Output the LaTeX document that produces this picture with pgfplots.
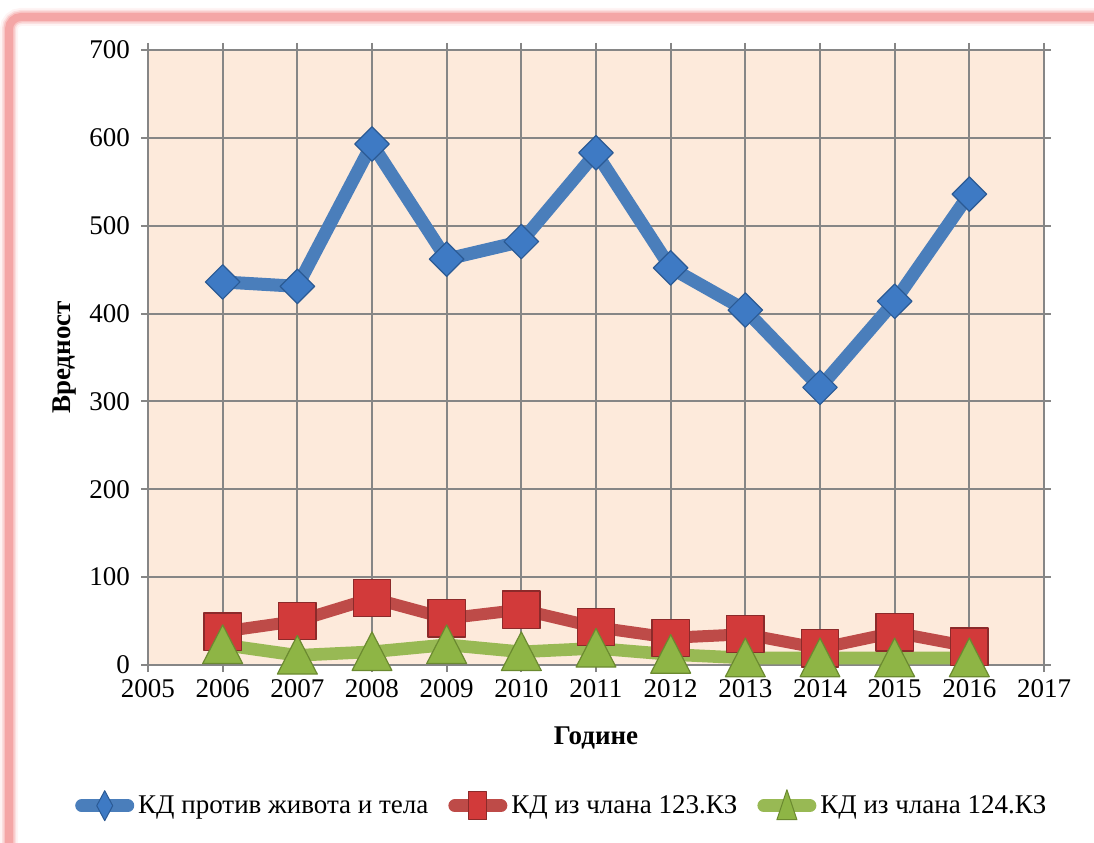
\documentclass[border=0pt]{standalone}
\usepackage{fontspec}
\setmainfont{Liberation Serif}
\usepackage{pgfplots}
\pgfplotsset{compat=1.18}
\definecolor{cBlue}{HTML}{4A7EBB}
\definecolor{cBlueM}{HTML}{3E7AC4}
\definecolor{cBlueD}{HTML}{2B5A94}
\definecolor{cRed}{HTML}{BE4B48}
\definecolor{cRedM}{HTML}{D23A3A}
\definecolor{cRedD}{HTML}{8C2A2A}
\definecolor{cGreen}{HTML}{98B954}
\definecolor{cGreenM}{HTML}{8EB545}
\definecolor{cGreenD}{HTML}{6B8A30}
\definecolor{cBg}{HTML}{FDEADB}
\definecolor{cGrid}{HTML}{868686}
\definecolor{cPink}{HTML}{F4A3A3}

\begin{document}
\begin{tikzpicture}[font=\fontsize{13.5}{16}\selectfont]
% frame with soft pink edge
\begin{scope}
\clip (0,0) rectangle (547pt,421pt);
\foreach \w/\o in {9/0.12, 7/0.25, 5.5/0.45, 4/0.9}
  \draw[cPink, line width=\w pt, opacity=\o, rounded corners=6pt] (4.5pt,-30pt) rectangle (580pt,412.5pt);
\end{scope}

\begin{axis}[
    at={(74pt,88.5pt)}, anchor=south west,
    scale only axis, width=448pt, height=307.5pt,
    xmin=2005, xmax=2017, ymin=0, ymax=700,
    xtick={2005,2006,...,2017}, ytick={0,100,...,700},
    /pgf/number format/1000 sep={},
    /pgf/number format/assume math mode=true,
    grid=major, major grid style={cGrid, line width=1pt},
    axis line style={cGrid, line width=1pt},
    tick style={cGrid, line width=1pt},
    tick align=outside, major tick length=3.5pt,
    axis background/.style={fill=cBg},
    y tick label style={xshift=-2pt},
    xlabel={\textbf{Године}}, ylabel={\textbf{Вредност}},
    xlabel style={at={(axis description cs:0.5,-0.119)}, anchor=center},
    ylabel style={at={(axis description cs:-0.0926,0.5)}, anchor=center},
    clip=false,
    legend style={at={(0.463,-0.228)}, anchor=center, legend columns=3,
      draw=none, fill=none, font=\fontsize{13.5}{16}\selectfont,
      /tikz/every odd column/.append style={column sep=0pt},
      /tikz/every even column/.append style={column sep=8pt}},
    every axis plot/.append style={line join=round},
]

\addplot[cBlue, line width=6.5pt, mark=square*, mark size=6.1pt,
  mark options={rotate=45, fill=cBlueM, draw=cBlueD, line width=0.6pt},
  legend image code/.code={
    \draw[cBlue, line width=6.5pt, line cap=round] (3pt,0pt) -- (26pt,0pt);
    \draw[fill=cBlueM, draw=cBlueD, line width=0.5pt] (14.5pt,-7.5pt) -- (18.5pt,0pt) -- (14.5pt,7.5pt) -- (10.5pt,0pt) -- cycle;}]
coordinates {(2006,436) (2007,431) (2008,593) (2009,462) (2010,482) (2011,583) (2012,452) (2013,404) (2014,316) (2015,414) (2016,536)};
\addlegendentry{КД против живота и тела}

\addplot[cRed, line width=6pt, mark=square*, mark size=9.3pt,
  mark options={fill=cRedM, draw=cRedD, line width=0.6pt},
  legend image code/.code={
    \draw[cRed, line width=6.5pt, line cap=round] (3pt,0pt) -- (26pt,0pt);
    \draw[fill=cRedM, draw=cRedD, line width=0.5pt] (10pt,-7pt) rectangle (19pt,7pt);}]
coordinates {(2006,38) (2007,50) (2008,76) (2009,53) (2010,63) (2011,43) (2012,31) (2013,35) (2014,19) (2015,37) (2016,21)};
\addlegendentry{КД из члана 123.КЗ}

\addplot[cGreen, line width=6.3pt, mark=triangle*, mark size=11.5pt,
  mark options={yscale=1.12, yshift=-2.6pt, fill=cGreenM, draw=cGreenD, line width=0.6pt},
  legend image code/.code={
    \draw[cGreen, line width=6.5pt, line cap=round] (3pt,0pt) -- (26pt,0pt);
    \draw[fill=cGreenM, draw=cGreenD, line width=0.5pt] (9.5pt,-7pt) -- (19.5pt,-7pt) -- (14.5pt,8pt) -- cycle;}]
coordinates {(2006,23) (2007,11) (2008,15) (2009,23) (2010,15) (2011,19) (2012,12) (2013,8) (2014,8) (2015,8) (2016,8)};
\addlegendentry{КД из члана 124.КЗ}

\end{axis}
\pgfresetboundingbox
\useasboundingbox (0,0) rectangle (547pt,421pt);
\end{tikzpicture}
\end{document}
